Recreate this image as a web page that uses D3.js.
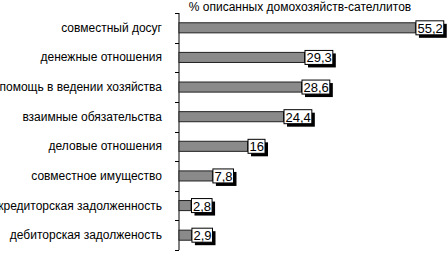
<!DOCTYPE html>
<html>
<head>
<meta charset="utf-8">
<script src="https://cdn.jsdelivr.net/npm/d3@7"></script>
<style>
  body { margin: 0; background: #fff; }
  text { font-family: "Liberation Sans", Arial, sans-serif; fill: #000; }
</style>
</head>
<body>
<div id="chart"></div>
<script>
var categories = [
  "совместный досуг",
  "денежные отношения",
  "помощь в ведении хозяйства",
  "взаимные обязательства",
  "деловые отношения",
  "совместное имущество",
  "кредиторская задолженность",
  "дебиторская задолженость"
];
var values = [55.2, 29.3, 28.6, 24.4, 16, 7.8, 2.8, 2.9];
var axisTitle = "% описанных домохозяйств-сателлитов";

var outerWidth = 447, outerHeight = 253;
var margin = { top: 13, right: 11, bottom: 3, left: 179 };

var svg = d3.select("#chart").append("svg")
    .attr("width", outerWidth)
    .attr("height", outerHeight);

var ruFormat = d3.formatLocale({ decimal: ",", thousands: " ", grouping: [3], currency: ["", ""] }).format("~");

var x = d3.scaleLinear()
    .domain([0, 60])
    .range([margin.left, outerWidth - margin.right]);

var y = d3.scaleBand()
    .domain(categories)
    .range([margin.top, outerHeight - margin.bottom])
    .paddingInner(0.66)
    .paddingOuter(0.33);

// axis title
svg.append("text")
    .attr("x", 300)
    .attr("y", 11)
    .attr("text-anchor", "middle")
    .attr("font-size", "12px")
    .text(axisTitle);

// category axis: line + ticks at band boundaries
var step = y.step();
var boundaries = d3.range(categories.length + 1).map(i => margin.top + i * step);

svg.append("line")
    .attr("x1", margin.left).attr("x2", margin.left)
    .attr("y1", margin.top).attr("y2", outerHeight - margin.bottom)
    .attr("stroke", "#000")
    .attr("stroke-width", 1);

svg.append("g")
  .selectAll("line")
    .data(boundaries)
  .enter().append("line")
    .attr("x1", margin.left - 4).attr("x2", margin.left)
    .attr("y1", d => Math.round(d) + 0.5)
    .attr("y2", d => Math.round(d) + 0.5)
    .attr("stroke", "#000");

svg.append("g")
  .selectAll("text")
    .data(categories)
  .enter().append("text")
    .attr("x", margin.left - 17)
    .attr("y", d => y(d) + y.bandwidth() / 2 + 4)
    .attr("text-anchor", "end")
    .attr("font-size", "12px")
    .text(d => d);

// bars
var data = categories.map((c, i) => ({ name: c, value: values[i] }));

svg.append("g")
  .selectAll("rect")
    .data(data)
  .enter().append("rect")
    .attr("x", x(0))
    .attr("y", d => y(d.name))
    .attr("width", d => x(d.value) - x(0))
    .attr("height", y.bandwidth())
    .attr("fill", "#8a8a8a")
    .attr("stroke", "#222")
    .attr("stroke-width", 1);

// value labels with shadowed boxes
var labels = svg.append("g")
  .selectAll("g")
    .data(data)
  .enter().append("g");

labels.each(function(d) {
  var g = d3.select(this);
  var shadow = g.append("rect");
  var box = g.append("rect");
  var t = g.append("text")
      .attr("x", x(d.value) + 2)
      .attr("y", y(d.name) + y.bandwidth() / 2 + 5)
      .attr("font-size", "13px")
      .text(ruFormat(d.value));
  var bb = t.node().getBBox();
  var bx = x(d.value) + 0.5, by = y(d.name) + y.bandwidth() / 2 - 7;
  var bw = bb.width + 2.5, bh = 14;
  shadow.attr("x", bx + 3).attr("y", by + 3)
      .attr("width", bw).attr("height", bh)
      .attr("fill", "#000");
  box.attr("x", bx).attr("y", by)
      .attr("width", bw).attr("height", bh)
      .attr("fill", "#fff")
      .attr("stroke", "#000")
      .attr("stroke-width", 1);
});
</script>
</body>
</html>
